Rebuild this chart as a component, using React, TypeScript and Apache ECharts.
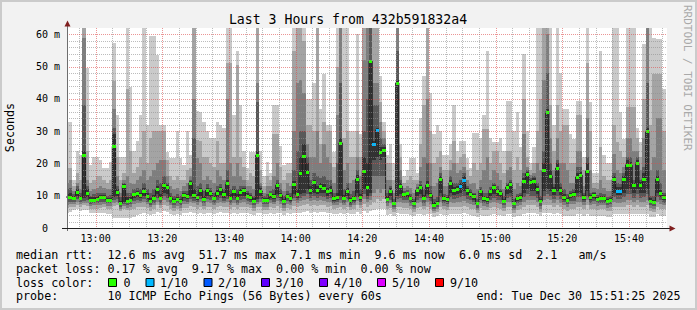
import React, { useEffect, useRef } from "react";
import * as echarts from "echarts";

// ---- time axis (minutes of the day) ----
const FIRST_MINUTE = 771; // 12:51, start of first rrd step
const VIEW_START = 771 + 25 / 60; // 12:51:25
const VIEW_END = VIEW_START + 180; // 15:51:25
const Y_MAX = 62;

// ---- median rtt per minute (ms) ----
const medianRtt = [
  9.6, 9.6, 9.2, 11.3, 9.3, 22.6, 10.8, 8.8, 8.8, 9.1,
  9.6, 9.6, 8.8, 8.8, 25.3, 11.3, 7.8, 13.1, 8.4, 8.8,
  10.4, 10.9, 10.2, 11.6, 9.9, 8.5, 9.4, 12, 9.4, 13.3,
  12.8, 9.3, 8.3, 9.0, 8.4, 10.2, 9.9, 14, 10.2, 9.5,
  11.8, 9.1, 11.8, 10.8, 9.3, 11, 12, 10.4, 14, 9.4,
  11.4, 9.4, 11.2, 11.7, 10, 9.5, 8.4, 22.6, 11.6, 8.8,
  8.8, 10.4, 9.9, 13.3, 10.2, 8.3, 10, 9.2, 13.7, 10.4,
  16.9, 22.3, 17.4, 11.9, 14.2, 11.9, 12.9, 12.4, 11.4, 11.9,
  9.2, 9.6, 26.4, 9.3, 11.5, 8.6, 9.2, 15.2, 9.6, 17.7,
  12.7, 51.7, 26.1, 30.4, 23.7, 24.2, 9.1, 11.6, 7.6, 45,
  13, 10.6, 10.7, 9.4, 7.7, 11.8, 12.7, 9.4, 13.3, 10.2,
  7.1, 7.7, 15.2, 9.2, 8.9, 14, 11.8, 12.1, 13, 14.9,
  11.9, 10.6, 9.8, 7.6, 11.5, 9.2, 8.9, 11.6, 12.7, 11.5,
  10.8, 8.5, 12.7, 13.7, 7.6, 9.2, 9.6, 14.5, 16.8, 14.4,
  14.7, 12.1, 8.3, 17.9, 36, 16.2, 11.8, 18.6, 11.8, 9.6,
  8.7, 10.1, 10.5, 15.9, 16.4, 9.6, 17.7, 9.5, 10.1, 9.1,
  9.4, 9.4, 8.4, 8.8, 15.1, 11.6, 11.6, 15.1, 19.6, 19.4,
  13.2, 20.2, 13.3, 15.2, 30, 8.4, 8, 15.1, 10.8, 9.6,
];

// ---- sorted pings (smoke), slowest ping10 .. fastest ping1 (ms) ----
const ping10 = [
  33, 33, 15, 24, 22.6, 63, 49.6, 19.5, 22, 22,
  21, 18.5, 18.5, 20.5, 57.5, 35, 22, 22, 63, 43.6,
  24, 27, 35, 63, 32, 59.6, 59.6, 53.6, 32, 32,
  23.5, 21.6, 21.6, 30, 21.6, 19.5, 30, 22.6, 63, 36.3,
  36, 33, 30, 28, 28, 33, 32, 31, 63, 63,
  35, 55, 38, 24, 18.5, 23.5, 23.5, 63, 24, 16,
  20.5, 17, 38, 38, 25.5, 19.5, 20, 20, 63, 63,
  63, 63, 40, 40, 45, 63, 37, 47.6, 32, 32,
  23.5, 63, 63, 63, 63, 30, 30, 60, 29, 63,
  63, 63, 63, 63, 47, 33, 22.6, 26, 20, 63,
  26, 16, 18, 21.6, 21.6, 17, 34, 47, 63, 42,
  29, 32, 30, 22.6, 22.6, 26, 38, 24, 27, 27,
  21.6, 18.5, 29.5, 29.5, 28, 35, 55, 28, 26.8, 26.8,
  28, 24, 39.5, 39.5, 30, 36, 25, 54, 30, 20,
  25, 63, 63, 63, 63, 63, 32, 63, 48, 37,
  37, 29, 27.5, 39.5, 39.5, 22, 63, 39, 17, 17,
  55, 22.6, 20, 20, 63, 63, 36, 27.7, 63, 63,
  63, 31, 26.8, 57, 63, 63, 59, 58.5, 58.5, 43,
];
const ping9 = [
  18.5, 18.5, 13, 17, 15, 63, 24, 14, 15, 16,
  16, 15, 14, 15, 45.5, 22, 15, 17, 43, 24,
  17, 19, 22, 30, 20, 28, 30, 30, 30, 30,
  21, 16, 15, 16, 15, 15, 18, 18.5, 63, 27.3,
  27, 22, 22, 20, 19, 27, 20, 20, 51, 51,
  22, 50.5, 22, 19, 15, 17, 16, 63, 18, 13,
  16, 15, 29, 29, 19, 15, 17, 17, 55, 63,
  63, 58, 32, 32, 30, 63, 26, 33, 30, 30,
  19, 50, 63, 28, 30, 22, 22, 30, 22, 63,
  63, 63, 63, 63, 39, 30, 20, 20, 15, 63,
  22, 14, 15, 16, 15, 15, 26, 38, 63, 30,
  20, 22, 24, 18, 18, 21, 27, 20, 22, 23,
  18, 16, 20, 18, 20, 30.6, 30.6, 20, 24, 24,
  20, 17, 24, 24, 18, 22, 18, 40, 22, 18,
  20, 30, 40, 63, 63, 38, 24, 38, 30, 32,
  32, 20, 20, 35, 35, 18, 51, 30, 14, 14,
  25, 16, 15, 15, 32, 26.8, 24, 22, 37.6, 37.6,
  37.6, 28, 22, 40, 63, 32, 47.6, 47.6, 47.6, 30,
];
const ping8 = [
  14, 15, 11.5, 14, 12, 59, 15, 11.5, 12, 12.5,
  13, 12.5, 12, 12, 37, 16, 11, 15, 16, 14,
  13.5, 15, 16, 18, 15, 16, 18, 20, 21, 21,
  16, 13, 12, 12.5, 11.5, 13, 14, 16, 40, 21.6,
  20, 15, 16, 15, 14, 18, 16, 15, 40, 20,
  16, 20, 16, 15, 13, 13, 12, 45, 14, 11,
  13, 13, 16, 20, 14, 11.5, 14, 13, 30, 45,
  46, 42, 26, 22, 22, 30, 20, 26, 22, 20,
  14, 35, 63, 18, 20, 14, 15, 22, 16, 52,
  63, 63, 45, 45, 33, 28, 15, 15, 11, 63,
  18, 12.5, 13, 12.5, 11, 13.5, 19, 22, 40, 20,
  13, 14, 19, 13, 13, 18, 20, 17, 18, 19,
  15, 13.5, 14, 12, 15, 18, 22, 15, 18, 17,
  15, 12, 18, 19, 12, 14, 13, 29, 19, 16.5,
  17, 20, 18, 46, 60, 28, 18, 28, 20, 20,
  18, 14, 14, 24, 24, 13, 34, 18, 12.5, 12,
  15, 12.5, 11.5, 11.5, 23, 18, 17, 19, 28, 28,
  24, 24, 18, 28, 63, 18, 22, 34, 34, 18,
];
const ping7 = [
  12, 12.5, 10.5, 13, 11, 38, 13, 10, 10.5, 10.8,
  11, 11, 10, 10.2, 31, 13, 9.5, 14, 11, 11,
  12, 12.5, 12, 14, 12, 11, 12, 15, 14, 16,
  14, 11, 10, 10.5, 9.8, 11.5, 11.5, 15, 28, 13,
  14, 11.5, 13.5, 12.5, 11, 13, 13.5, 12, 18, 12,
  13, 12, 13, 13, 11.5, 11, 10, 39, 13, 10,
  10.5, 11.5, 12, 15, 12, 9.8, 11.5, 10.8, 18, 24,
  30, 30, 22, 15, 17, 16, 15.5, 16, 15, 15,
  11, 20, 45, 12, 14, 10.5, 11.5, 18, 12, 30,
  40, 63, 38, 38, 28, 26, 11, 13, 9, 55,
  15, 11.5, 11.8, 10.5, 9, 12.6, 14.5, 12, 20, 13,
  9, 9.5, 17, 10.5, 10.2, 16, 14, 14, 15, 17,
  13, 12, 11, 9, 12.6, 11, 11, 12.6, 14, 13,
  12, 9.8, 14, 15, 9, 10.5, 10.8, 17, 18, 15.6,
  16, 14, 10, 24, 48, 20, 13.5, 21, 14, 12,
  10.5, 11.5, 12, 19, 19, 10.8, 22, 11, 11.2, 10.2,
  10.8, 10.6, 9.5, 9.8, 17, 14, 13.5, 17, 22, 22,
  15, 22, 15, 19, 45, 10, 10, 18, 14, 11,
];
const ping6 = [
  10.5, 10.8, 9.8, 12, 10, 24, 12, 9.5, 9.5, 9.8,
  10.2, 10.2, 9.4, 9.4, 29, 12, 8.5, 13.5, 9.5, 9.6,
  11, 11.6, 11, 12.5, 10.8, 9.4, 10.2, 13, 10.5, 14,
  13.3, 10, 9, 9.6, 9, 10.8, 10.6, 14.6, 12, 10.5,
  12.5, 10, 12.5, 11.5, 10, 11.8, 12.6, 11.2, 15, 10.4,
  12, 10.4, 12, 12.4, 10.8, 10.2, 9.2, 24, 12.4, 9.4,
  9.4, 11, 10.6, 14, 11, 9, 10.6, 9.8, 14.5, 12,
  22, 26, 20, 13, 15, 13, 14, 13.5, 12.5, 13,
  10, 11, 28, 10.2, 12.4, 9.4, 10, 16.5, 10.5, 22,
  20, 52, 27, 31, 25, 25, 10, 12.4, 8.2, 46,
  14, 11, 11.2, 9.9, 8.3, 12.2, 13.4, 10.2, 14.5, 11,
  8, 8.4, 16.2, 9.8, 9.5, 15, 12.8, 13, 14, 16,
  12.5, 11.2, 10.4, 8.2, 12, 9.8, 9.6, 12, 13.2, 12.2,
  11.4, 9.1, 13.3, 14.4, 8.2, 9.8, 10.2, 15.5, 17.5, 15,
  15.4, 13, 9, 20, 37, 18, 12.6, 20, 12.8, 10.4,
  9.4, 10.8, 11.2, 17, 17.5, 10.2, 20, 10.1, 10.7, 9.7,
  10, 10, 9, 9.3, 16, 12.8, 12.6, 16, 21, 20.6,
  14, 21.2, 14.2, 17, 31, 9.2, 8.8, 16.2, 11.8, 10.2,
];
const ping5 = [
  9, 9, 8.7, 10, 8.8, 9.2, 9.5, 8.2, 8.2, 8.5,
  9, 9, 8.2, 8.2, 9.6, 10, 7.2, 8, 7.6, 8,
  9.4, 9.6, 9.2, 10, 9, 7.8, 8.6, 10.5, 8.6, 11,
  10.5, 8.6, 7.6, 8.3, 7.7, 9.2, 9, 10, 9.2, 8.7,
  10, 8.4, 10, 9.6, 8.6, 9.6, 10.2, 9.4, 10, 8.6,
  9.8, 8.6, 9.8, 10, 9.2, 8.8, 7.7, 9, 10, 8,
  8, 9.4, 9, 10.5, 9.3, 7.6, 9.2, 8.5, 10.5, 9.4,
  10.5, 11, 12, 10.5, 11, 10.5, 11, 10.8, 10, 10.4,
  8.5, 8.8, 9.8, 8.6, 10, 7.9, 8.5, 10.8, 8.8, 12,
  10, 11, 21, 22, 21, 22, 8.4, 10, 7, 10,
  10.5, 9.6, 9.6, 8.6, 7, 10, 10.5, 8.6, 10.5, 9.2,
  6.6, 7, 11, 8.4, 8.1, 11, 10.2, 10.5, 11, 11.5,
  10.2, 9.6, 8.8, 7, 10, 8.4, 8.2, 10, 10.6, 10,
  9.6, 7.7, 10.6, 11, 7, 8.4, 8.8, 11, 12, 11.5,
  11.5, 10.5, 7.6, 11.5, 12, 11.5, 10.2, 11.5, 10.2, 8.8,
  8, 9.2, 9.5, 11, 11, 8.8, 11.5, 8.7, 9.2, 8.4,
  8.6, 8.6, 7.7, 8, 11, 10.2, 10.2, 11, 12, 12,
  10.8, 12, 10.8, 11, 12, 7.7, 7.4, 11, 9.6, 8.6,
];
const ping4 = [
  8, 8.2, 8, 9, 8, 8.5, 8.6, 7.5, 7.6, 7.8,
  8.2, 8.2, 7.6, 7.6, 8.6, 9, 6.6, 7.4, 7, 7.4,
  8.5, 8.7, 8.5, 9, 8.2, 7.2, 7.8, 9.3, 7.9, 9.8,
  9.3, 7.8, 7, 7.6, 7, 8.4, 8.2, 9, 8.4, 8,
  9, 7.7, 9, 8.6, 7.8, 8.6, 9.2, 8.5, 9, 7.8,
  8.8, 7.8, 8.8, 9, 8.4, 8, 7, 8.2, 9, 7.4,
  7.4, 8.6, 8.2, 9.4, 8.4, 7, 8.4, 7.8, 9.4, 8.6,
  9.4, 9.8, 10.5, 9.4, 9.8, 9.4, 9.8, 9.6, 9, 9.3,
  7.8, 8, 8.8, 7.8, 9, 7.2, 7.8, 9.6, 8, 10.5,
  9, 10, 16, 16, 16, 16, 7.6, 8.8, 6.4, 9,
  9.2, 8.6, 8.6, 7.8, 6.4, 8.8, 9.2, 7.8, 9.2, 8.3,
  6, 6.4, 9.6, 7.6, 7.4, 9.6, 9, 9.2, 9.6, 10,
  9, 8.6, 8, 6.3, 8.8, 7.6, 7.4, 8.8, 9.4, 8.8,
  8.6, 7, 9.4, 9.6, 6.3, 7.6, 8, 9.6, 10.4, 10,
  10, 9.2, 6.8, 10, 10.5, 10, 9, 10, 9, 8,
  7.3, 8.3, 8.5, 9.6, 9.6, 8, 10, 7.9, 8.3, 7.6,
  7.8, 7.8, 7, 7.3, 9.6, 9, 9, 9.6, 10.4, 10.4,
  9.4, 10.4, 9.4, 9.6, 10.4, 7, 6.8, 9.6, 8.6, 7.8,
];
const ping3 = [
  7.2, 7.4, 7.4, 8, 7.3, 7.8, 7.8, 6.8, 7, 7,
  7.2, 7.4, 6.8, 6.8, 7.8, 8, 6, 6.8, 6.3, 6.6,
  7.5, 7.8, 7.6, 8, 7.4, 6.4, 7, 8.2, 7.2, 8.6,
  8.2, 7, 6.3, 6.8, 6.3, 7.4, 7.3, 8, 7.6, 7.2,
  8, 6.9, 8, 7.6, 7, 7.6, 8.2, 7.6, 8, 7,
  7.8, 7, 7.8, 8, 7.5, 7.2, 6.3, 7.4, 8, 6.6,
  6.6, 7.6, 7.3, 8.3, 7.5, 6.3, 7.5, 7, 8.3, 7.6,
  8.3, 8.6, 9, 8.3, 8.6, 8.3, 8.6, 8.5, 8, 8.2,
  7, 7.2, 7.8, 7, 8, 6.5, 7, 8.5, 7.2, 9,
  8, 8.6, 11, 12, 11, 12, 6.8, 7.6, 5.8, 8,
  8, 7.6, 7.6, 6.9, 5.8, 7.6, 8, 6.9, 8, 7.3,
  5.4, 5.8, 8.2, 6.8, 6.6, 8.2, 7.8, 8, 8.2, 8.5,
  7.8, 7.4, 7, 5.6, 7.6, 6.8, 6.6, 7.6, 8, 7.6,
  7.4, 6.2, 8, 8.2, 5.6, 6.8, 7, 8.2, 8.8, 8.6,
  8.6, 8, 6, 8.6, 9, 8.6, 7.8, 8.6, 7.8, 7,
  6.5, 7.3, 7.4, 8.2, 8.2, 7, 8.6, 7, 7.3, 6.8,
  7, 7, 6.2, 6.5, 8.2, 7.8, 7.8, 8.2, 8.8, 8.8,
  8, 8.8, 8, 8.2, 8.8, 6.2, 6, 8.2, 7.4, 7,
];
const ping2 = [
  6.2, 6.4, 6.5, 7, 6.5, 7, 6.8, 6, 6, 6,
  6.2, 6.4, 5.8, 5.8, 6.8, 7, 5.2, 6, 5.5, 5.6,
  6, 6.4, 6.4, 6.6, 6.2, 5.4, 6, 7, 6.2, 7.2,
  6.8, 6, 5.4, 5.8, 5.4, 6.2, 6.2, 6.8, 6.4, 6,
  6.6, 5.8, 6.6, 6.4, 6, 6.4, 6.8, 6.4, 6.6, 6,
  6.6, 6, 6.6, 6.6, 6.4, 6.2, 5.4, 6.4, 6.6, 5.6,
  5.6, 6.4, 6.2, 6.8, 6.3, 5.4, 6.3, 6, 6.8, 6.4,
  6.8, 7, 7.4, 6.8, 7, 6.8, 7, 7, 6.6, 6.8,
  6, 6.2, 6.6, 6, 6.6, 5.6, 6, 7, 6.2, 7.4,
  6.6, 7.2, 8, 9, 8.5, 9, 5.8, 6.2, 5, 6.6,
  6.6, 6.2, 6.2, 5.8, 5, 6.2, 6.6, 5.8, 6.6, 6,
  4.6, 5, 6.6, 5.8, 5.6, 6.6, 6.4, 6.6, 6.6, 6.8,
  6.4, 6, 5.8, 4.8, 6.2, 5.6, 5.6, 6.2, 6.6, 6.2,
  6, 5.2, 6.6, 6.6, 4.8, 5.6, 5.8, 6.6, 7, 7,
  7, 6.6, 5, 7, 7.2, 7, 6.4, 7, 6.4, 5.8,
  5.4, 6, 6, 6.6, 6.6, 5.8, 7, 5.8, 6, 5.6,
  5.8, 5.8, 5.2, 5.4, 6.6, 6.4, 6.4, 6.6, 7, 7,
  6.6, 7, 6.6, 6.6, 7, 5.2, 5, 6.6, 6, 5.8,
];
const ping1 = [
  4.8, 5, 5.5, 5.8, 5.2, 5.5, 5.5, 4.8, 4.5, 4.5,
  4.6, 4.8, 4.2, 4.2, 3.2, 3.2, 3.2, 3.2, 3.2, 3.2,
  3.5, 4, 4.2, 4.5, 4.4, 4, 4.4, 5, 4.6, 5.4,
  5, 4.4, 4, 4.2, 4, 4.6, 4.6, 5, 4.8, 4.4,
  4.8, 4.2, 4.8, 4.6, 4.4, 4.6, 5, 4.6, 4.8, 4.4,
  4.8, 4.4, 4.8, 4.8, 4.6, 4.4, 4, 4.6, 4.8, 4.2,
  4.2, 4.6, 4.4, 4.8, 4.6, 4, 4.6, 4.4, 4.8, 4.6,
  4.8, 5, 5.2, 4.8, 5, 4.8, 5, 5, 4.8, 4.8,
  4.4, 4.4, 4.8, 4.4, 4.8, 4.2, 4.4, 5, 4.4, 5.2,
  4.8, 5.2, 5.5, 6, 6, 6, 4, 4.2, 3.6, 4.6,
  4.4, 4.2, 4.2, 4, 3.6, 4.2, 4.4, 4, 4.4, 4.2,
  3.4, 3.6, 4.4, 4, 4, 4.4, 4.2, 4.4, 4.4, 4.6,
  4.2, 4, 3.8, 3.4, 4, 3.8, 3.8, 4, 4.2, 4,
  4, 3.6, 4.2, 4.2, 3.4, 3.8, 3.8, 4.2, 4.6, 4.6,
  4.6, 4.2, 3.6, 4.6, 4.8, 4.6, 4.2, 4.6, 4.2, 3.8,
  3.6, 3.8, 3.8, 4.2, 4.2, 3.8, 4.4, 3.8, 3.8, 3.8,
  3.8, 3.8, 3.4, 3.4, 4.2, 4.2, 4.2, 4.2, 4.4, 4.4,
  4.2, 4.4, 4.2, 4.2, 4.4, 3.4, 3.4, 4.2, 3.8, 3.6,
];

// ---- packet loss: [minute index, lost pings of 10] ----
const lossEvents: [number, number][] = [
  [92, 1], [93, 1], [118, 1], [119, 1], [165, 1], [166, 1],
];

// ---- axes ----
const xTickLabels = ["13:00", "13:20", "13:40", "14:00", "14:20", "14:40", "15:00", "15:20", "15:40"];
const yTickValues = [0, 10, 20, 30, 40, 50, 60];

// ---- legend ----
const lossColors = ["#26ff00", "#00b8ff", "#0059ff", "#5e00ff", "#7e00ff", "#dd00ff", "#ff0000"];
const lossLabels = ["0", "1/10", "2/10", "3/10", "4/10", "5/10", "9/10"];
const titleText = "Last 3 Hours from 432b591832a4";
const statLines = [
  "median rtt:  12.6 ms avg  51.7 ms max  7.1 ms min  9.6 ms now  6.0 ms sd  2.1   am/s",
  "packet loss: 0.17 % avg  9.17 % max  0.00 % min  0.00 % now",
];
const lossColorLabel = "loss color:";
const probeLine = "probe:       10 ICMP Echo Pings (56 Bytes) every 60s";
const endText = "end: Tue Dec 30 15:51:25 2025";
const watermark = "RRDTOOL / TOBI OETIKER";

// ---- styling ----
const MONO = "DejaVu Sans Mono";
const SMOKE_COLORS = ["#cacaca", "#a4a4a4", "#7e7e7e", "#585858", "#323232"];
const CH = 7.03;
const LEG_X = 16;
const ROWS = [255, 268.5, 282.5, 296];
const SQUARE_X = [108, 145.5, 203.5, 261, 319, 377, 435];
const LABEL_X = [123.5, 160, 218, 275.5, 334, 392, 450];

function toMinute(s: string) {
  const [h, m] = s.split(":").map(Number);
  return h * 60 + m;
}

function segments(line: string) {
  const out: { text: string; col: number }[] = [];
  const re = /\S+(?: \S+)*/g;
  let m: RegExpExecArray | null;
  while ((m = re.exec(line))) out.push({ text: m[0], col: m.index });
  return out;
}

function textEl(text: string, x: number, y: number, extra: any = {}, styleExtra: any = {}) {
  return {
    type: "text",
    x,
    y,
    z: 100,
    silent: true,
    ...extra,
    style: {
      text,
      fontFamily: MONO,
      fontSize: 11.7,
      fill: "#000",
      align: "left",
      textAlign: "left",
      verticalAlign: "middle",
      textVerticalAlign: "middle",
      ...styleExtra,
    },
  };
}

function buildOption() {
  const pings = [ping1, ping2, ping3, ping4, ping5, ping6, ping7, ping8, ping9, ping10];
  const loss = medianRtt.map(() => 0);
  lossEvents.forEach(([i, n]) => (loss[i] = n));
  const n = medianRtt.length;
  const colData = medianRtt.map((m, i) => [FIRST_MINUTE + i, m]);

  const colX = (api: any, cs: any, i: number) => {
    let xa = Math.round(api.coord([FIRST_MINUTE + i, 0])[0]);
    let xb = Math.round(api.coord([FIRST_MINUTE + i + 1, 0])[0]);
    xa = Math.max(xa, cs.x);
    xb = Math.min(xb, cs.x + cs.width);
    return [xa, xb];
  };

  const smokeSeries = {
    type: "custom",
    z: 1,
    silent: true,
    data: colData,
    encode: { x: 0, y: 1 },
    renderItem: (params: any, api: any) => {
      const i = params.dataIndex;
      const cs = params.coordSys;
      const [xa, xb] = colX(api, cs, i);
      if (xb <= xa) return null;
      const children: any[] = [];
      for (let b = 0; b < 5; b++) {
        const lo = pings[b][i];
        const hi = Math.min(pings[9 - b][i], Y_MAX);
        const yl = Math.round(api.coord([0, lo])[1]);
        const yh = Math.max(Math.round(api.coord([0, hi])[1]), cs.y);
        if (yl - yh <= 0) continue;
        children.push({
          type: "rect",
          shape: { x: xa, y: yh, width: xb - xa, height: yl - yh },
          style: { fill: SMOKE_COLORS[b] },
        });
      }
      return { type: "group", children };
    },
  };

  const lineData = colData.slice();
  lineData.push([FIRST_MINUTE + n, medianRtt[n - 1]]);
  const medianLine = {
    type: "line",
    z: 2,
    silent: true,
    step: "end",
    symbol: "none",
    data: lineData,
    lineStyle: { color: "#202020", width: 1 },
  };

  const markSeries = {
    type: "custom",
    z: 3,
    silent: true,
    data: colData,
    encode: { x: 0, y: 1 },
    renderItem: (params: any, api: any) => {
      const i = params.dataIndex;
      const cs = params.coordSys;
      const [xa, xb] = colX(api, cs, i);
      if (xb <= xa) return null;
      const y = Math.round(api.coord([0, medianRtt[i]])[1]);
      return {
        type: "rect",
        shape: { x: xa, y: y - 1, width: xb - xa, height: 3 },
        style: { fill: lossColors[loss[i]] },
      };
    },
  };

  const gridDefs: { dir: string; value: number; major: boolean }[] = [];
  for (let m = 775; m < VIEW_END; m += 5) gridDefs.push({ dir: "v", value: m, major: m % 20 === 0 });
  for (let v = 2; v < Y_MAX; v += 2) gridDefs.push({ dir: "h", value: v, major: v % 10 === 0 });

  const gridSeries = {
    type: "custom",
    z: 4,
    silent: true,
    data: gridDefs.map(() => [VIEW_START, 0]),
    encode: { x: 0, y: 1 },
    renderItem: (params: any, api: any) => {
      const g = gridDefs[params.dataIndex];
      const cs = params.coordSys;
      const color = g.major ? "rgba(222,79,79,0.6)" : "rgba(143,143,143,0.6)";
      let shape;
      if (g.dir === "v") {
        const x = Math.round(api.coord([g.value, 0])[0]) + 0.5;
        shape = { x1: x, y1: cs.y, x2: x, y2: cs.y + cs.height };
      } else {
        const y = Math.round(api.coord([VIEW_START, g.value])[1]) + 0.5;
        shape = { x1: cs.x, y1: y, x2: cs.x + cs.width, y2: y };
      }
      return {
        type: "line",
        shape,
        style: { stroke: color, lineWidth: 1, lineDash: [1, 1] },
      };
    },
  };

  const xTickMinutes = xTickLabels.map(toMinute);

  const graphics: any[] = [];
  // frame
  graphics.push({
    type: "rect",
    z: 100,
    silent: true,
    shape: { x: 1, y: 1, width: 695, height: 308 },
    style: { fill: "none", stroke: "#cbcbcb", lineWidth: 2 },
  });
  // axes
  graphics.push({
    type: "line",
    z: 100,
    silent: true,
    shape: { x1: 67.5, y1: 231, x2: 67.5, y2: 25 },
    style: { stroke: "#6e6e6e", lineWidth: 1 },
  });
  graphics.push({
    type: "line",
    z: 100,
    silent: true,
    shape: { x1: 62, y1: 228.5, x2: 670, y2: 228.5 },
    style: { stroke: "#1f1f1f", lineWidth: 1 },
  });
  graphics.push({
    type: "polygon",
    z: 101,
    silent: true,
    shape: { points: [[67.5, 20.5], [64.5, 26.5], [70.5, 26.5]] },
    style: { fill: "#801f1f" },
  });
  graphics.push({
    type: "polygon",
    z: 101,
    silent: true,
    shape: { points: [[675.5, 228.5], [669.5, 225.5], [669.5, 231.5]] },
    style: { fill: "#801f1f" },
  });
  // title
  graphics.push(
    textEl(titleText, 348, 19, {}, { fontSize: 13.2, align: "center", textAlign: "center" })
  );
  // y axis name
  graphics.push(
    textEl("Seconds", 10, 127.5, { rotation: Math.PI / 2 }, { align: "center", textAlign: "center" })
  );
  // watermark
  graphics.push(
    textEl(watermark, 687.5, 5, { rotation: -Math.PI / 2 }, { fontSize: 11, fill: "#a9a9a9" })
  );
  // stats lines
  statLines.forEach((line, r) => {
    segments(line).forEach((s) => graphics.push(textEl(s.text, LEG_X + s.col * CH, ROWS[r])));
  });
  // loss colour legend
  graphics.push(textEl(lossColorLabel, LEG_X, ROWS[2]));
  lossColors.forEach((c, k) => {
    graphics.push({
      type: "rect",
      z: 100,
      silent: true,
      shape: { x: SQUARE_X[k] + 0.5, y: ROWS[2] - 4, width: 8, height: 8 },
      style: { fill: c, stroke: "#000", lineWidth: 1 },
    });
    graphics.push(textEl(lossLabels[k], LABEL_X[k], ROWS[2]));
  });
  // probe + end
  segments(probeLine).forEach((s) => graphics.push(textEl(s.text, LEG_X + s.col * CH, ROWS[3])));
  graphics.push(textEl(endText, 680.5, ROWS[3], {}, { align: "right", textAlign: "right" }));

  return {
    animation: false,
    backgroundColor: "#f2f2f2",
    grid: {
      left: 67,
      top: 28,
      width: 600,
      height: 200,
      show: true,
      backgroundColor: "#ffffff",
      borderWidth: 0,
    },
    xAxis: {
      type: "value",
      min: VIEW_START,
      max: VIEW_END,
      axisLine: { show: false },
      axisTick: { show: false },
      splitLine: { show: false },
      axisLabel: {
        customValues: xTickMinutes,
        formatter: (v: number) => {
          const k = xTickMinutes.indexOf(Math.round(v));
          return k >= 0 ? xTickLabels[k] : "";
        },
        fontFamily: MONO,
        fontSize: 10,
        color: "#000",
        margin: 5,
      },
    },
    yAxis: {
      type: "value",
      min: 0,
      max: Y_MAX,
      interval: 10,
      axisLine: { show: false },
      axisTick: { show: false },
      splitLine: { show: false },
      axisLabel: {
        showMinLabel: true,
        showMaxLabel: false,
        formatter: (v: number) =>
          yTickValues.indexOf(v) < 0 ? "" : v === 0 ? "{z|0}" : `${v} m`,
        rich: {
          z: { fontFamily: MONO, fontSize: 10, color: "#000", padding: [0, 12, 0, 0] },
        },
        fontFamily: MONO,
        fontSize: 10,
        color: "#000",
        margin: 7,
      },
    },
    series: [smokeSeries, medianLine, markSeries, gridSeries],
    graphic: { elements: graphics },
  };
}

export default function App() {
  const ref = useRef<HTMLDivElement>(null);
  useEffect(() => {
    if (!ref.current) return;
    const chart = echarts.init(ref.current, undefined, { renderer: "svg" });
    chart.setOption(buildOption() as any);
    return () => chart.dispose();
  }, []);
  return (
    <div
      ref={ref}
      style={{ position: "absolute", left: 0, top: 0, width: 697, height: 310 }}
    />
  );
}
